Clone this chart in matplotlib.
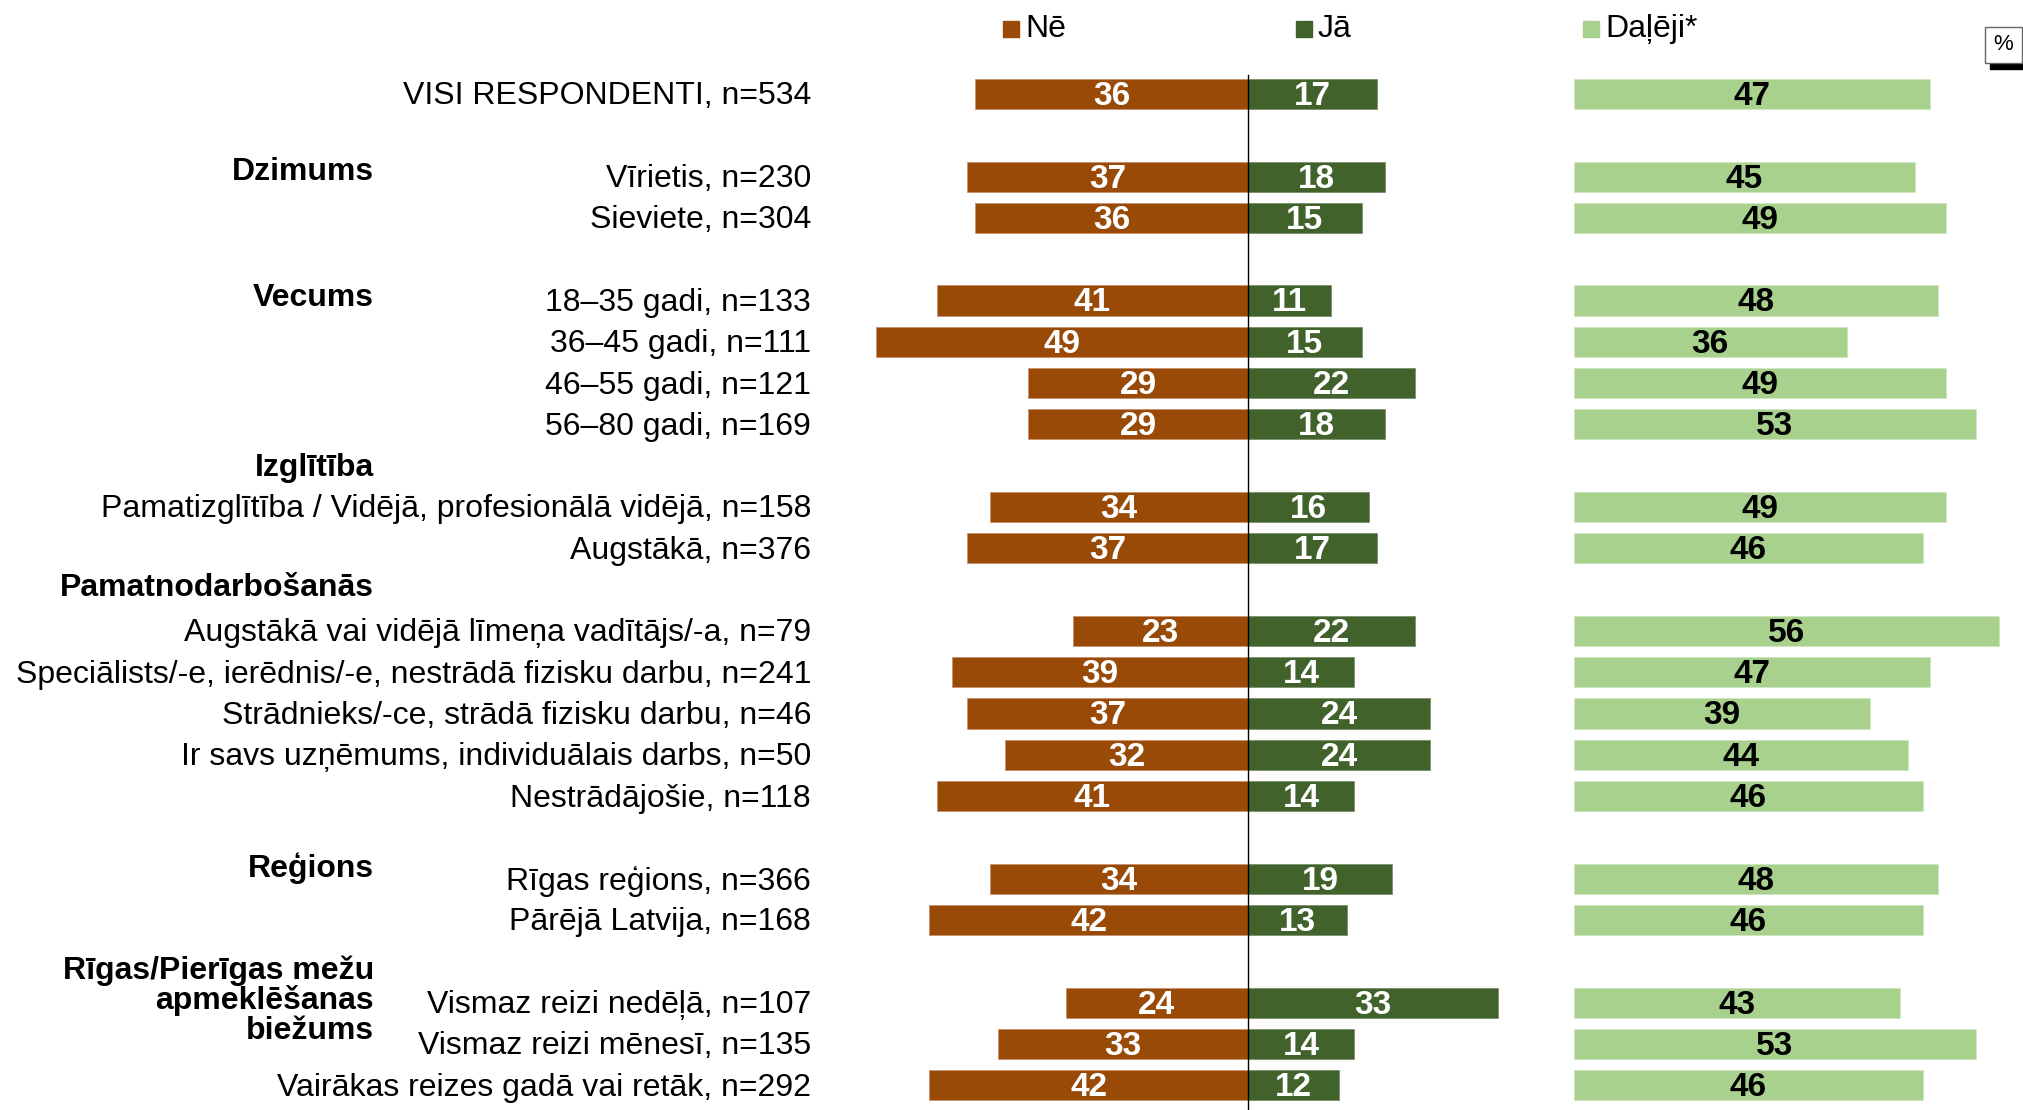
import matplotlib.pyplot as plt
import matplotlib.transforms as mtransforms
from matplotlib.patches import Rectangle

# data
labels = ['VISI RESPONDENTI, n=534',
          'Vīrietis, n=230', 'Sieviete, n=304',
          '18–35 gadi, n=133', '36–45 gadi, n=111', '46–55 gadi, n=121', '56–80 gadi, n=169',
          'Pamatizglītība / Vidējā, profesionālā vidējā, n=158', 'Augstākā, n=376',
          'Augstākā vai vidējā līmeņa vadītājs/-a, n=79',
          'Speciālists/-e, ierēdnis/-e, nestrādā fizisku darbu, n=241',
          'Strādnieks/-ce, strādā fizisku darbu, n=46',
          'Ir savs uzņēmums, individuālais darbs, n=50',
          'Nestrādājošie, n=118',
          'Rīgas reģions, n=366', 'Pārējā Latvija, n=168',
          'Vismaz reizi nedēļā, n=107', 'Vismaz reizi mēnesī, n=135',
          'Vairākas reizes gadā vai retāk, n=292']
rows = [0, 2, 3, 5, 6, 7, 8, 10, 11, 13, 14, 15, 16, 17, 19, 20, 22, 23, 24]
ne = [36, 37, 36, 41, 49, 29, 29, 34, 37, 23, 39, 37, 32, 41, 34, 42, 24, 33, 42]
ja = [17, 18, 15, 11, 15, 22, 18, 16, 17, 22, 14, 24, 24, 14, 19, 13, 33, 14, 12]
daleji = [47, 45, 49, 48, 36, 49, 53, 49, 46, 56, 47, 39, 44, 46, 48, 46, 43, 53, 46]

groups = ['Dzimums', 'Vecums', 'Izglītība', 'Pamatnodarbošanās', 'Reģions',
          'Rīgas/Pierīgas mežu\napmeklēšanas\nbiežums']
group_rows = [1.9, 4.95, 9.05, 11.95, 18.75, 21.95]

series = ['Nē', 'Jā', 'Daļēji*']
colors = ['#994A07', '#41622B', '#A9D18E']

W, H = 2023, 1110
px_unit = 7.59          # pixels per percent
center_px = 1248
offset = 42.9           # where Daļēji bars start
row_px = 41.3
top_px = 94

fig = plt.figure(figsize=(W / 100, H / 100), dpi=100)
ax = fig.add_axes([0, 0, 1, 1])
ax.set_xlim(-center_px / px_unit, (W - center_px) / px_unit)
ax.set_ylim((H - top_px) / row_px, -top_px / row_px)
ax.axis('off')

lab_font = ['Liberation Sans', 'DejaVu Sans']
num_font = ['Liberation Sans Narrow', 'Liberation Sans', 'DejaVu Sans']

h = 0.73
ax.barh(rows, [-v for v in ne], height=h, color=colors[0], edgecolor='#C89070', linewidth=0.6)
ax.barh(rows, ja, height=h, color=colors[1], edgecolor='#7A9070', linewidth=0.6)
ax.barh(rows, daleji, left=offset, height=h, color=colors[2], edgecolor='#D0E6C0', linewidth=0.6)

dy = 0.06
for r, a, b, c in zip(rows, ne, ja, daleji):
    ax.text(-a / 2, r + dy, str(a), ha='center', va='center', color='white',
            fontsize=24, fontweight='bold', family=num_font)
    ax.text(b / 2, r + dy, str(b), ha='center', va='center', color='white',
            fontsize=24, fontweight='bold', family=num_font)
    ax.text(offset + c / 2, r + dy, str(c), ha='center', va='center', color='black',
            fontsize=24, fontweight='bold', family=num_font)

ax.plot([0, 0], [-0.45, (H - top_px) / row_px], color='black', linewidth=1)

tr = mtransforms.blended_transform_factory(fig.transFigure, ax.transData)
for r, lab in zip(rows, labels):
    ax.text(811 / W, r + dy, lab, transform=tr, ha='right', va='center',
            fontsize=23, family=lab_font)
for g, gr in zip(groups, group_rows):
    ax.text(374 / W, gr, g, transform=tr, ha='right', va='center',
            fontsize=23, fontweight='bold', family=lab_font, linespacing=0.98)

# legend
leg_x = [1003, 1296, 1583]
for x, s, c in zip(leg_x, series, colors):
    fig.patches.append(Rectangle((x / W, 1 - 37 / H), 16 / W, 16 / H,
                                 transform=fig.transFigure, color=c))
    fig.text((x + 22) / W, 1 - 29 / H, s, ha='left', va='center',
             fontsize=23, family=num_font)

# % box
fig.patches.append(Rectangle((1990 / W, 1 - 69 / H), 40 / W, 8 / H,
                             transform=fig.transFigure, color='black'))
fig.patches.append(Rectangle((1985 / W, 1 - 63 / H), 37 / W, 36 / H,
                             transform=fig.transFigure, facecolor='white',
                             edgecolor='#666666', linewidth=1))
fig.text(2003 / W, 1 - 45 / H, '%', ha='center', va='center', fontsize=16, family=lab_font)

fig.savefig('out.png', dpi=100)
